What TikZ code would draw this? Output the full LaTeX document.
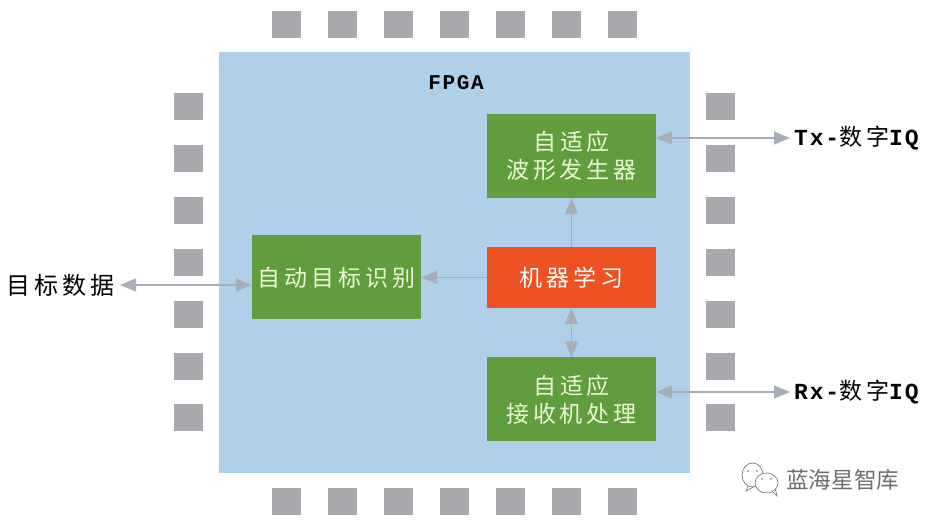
\documentclass[tikz,border=0pt]{standalone}
\usepackage{fontspec}
\usetikzlibrary{arrows.meta}
\newfontfamily\cjkb[LetterSpace=17]{Noto Sans CJK SC}
\newfontfamily\cjkw{Noto Sans CJK SC}
\newfontfamily\latn[LetterSpace=8]{Liberation Mono}
\definecolor{chipblue}{HTML}{B0CFE8}
\definecolor{boxgreen}{HTML}{609E3D}
\definecolor{boxred}{HTML}{EE5122}
\definecolor{padgray}{HTML}{A9A9AD}
\definecolor{arrowgray}{HTML}{A8AEB8}
\definecolor{lighttxt}{HTML}{EAF6D5}
\definecolor{marktxt}{HTML}{6E6E6E}
\tikzset{
  x=1pt,y=-1pt,
  chip/.style={fill=chipblue,draw=none,minimum width=471pt,minimum height=421pt,inner sep=0pt},
  funcbox/.style={fill=boxgreen,draw=none,minimum width=169pt,minimum height=84pt,inner sep=0pt,align=center,
    text=lighttxt,font=\cjkb\fontsize{23}{28}\selectfont},
  mlbox/.style={funcbox,fill=boxred,minimum height=61pt,text=white},
  pad/.style={fill=padgray,draw=none,minimum width=29pt,minimum height=27pt,inner sep=0pt},
  extlabel/.style={text=black,inner sep=0pt,font=\cjkb\fontsize{24}{26}\selectfont},
  link/.style={draw=arrowgray,line width=1.5pt},
  oneway/.style={link,-{Triangle[length=16pt,width=13pt]}},
  twoway/.style={link,{Triangle[length=16pt,width=13pt]}-{Triangle[length=16pt,width=13pt]}},
  bubble/.style={draw=marktxt,line width=.6pt,fill=white}
}
\begin{document}
\begin{tikzpicture}
\useasboundingbox (0,0) rectangle (930,521);
\fill[white] (0,0) rectangle (930,521);
\node[chip] (fpga) at (454.5,262.5) {};
\foreach \i/\px in {1/286.5,2/342.5,3/398.5,4/454.5,5/510.5,6/566.5,7/622.5}{
  \node[pad] (top\i) at (\px,24.5) {};
  \node[pad] (bot\i) at (\px,501.5) {};
}
\foreach \i/\py in {1/107,2/159,3/211,4/263,5/315,6/367,7/418}{
  \node[pad] (left\i) at (188.5,\py) {};
  \node[pad] (right\i) at (720,\py) {};
}
\node[font=\latn\bfseries\fontsize{21}{24}\selectfont,inner sep=0pt] (fpgalabel) at (456,83) {FPGA};
\node[funcbox] (wave) at (571.5,156) {自适应\\波形发生器};
\node[mlbox] (ml) at (571.5,277.5) {机器学习};
\node[funcbox] (rx) at (571.5,399.5) {自适应\\接收机处理};
\node[funcbox] (atr) at (336.5,277.5) {自动目标识别};
\node[extlabel,anchor=east] (target) at (115,285) {目标数据};
\node[inner sep=0pt,anchor=west,font=\fontsize{23}{26}\selectfont] (tx) at (794,138) {{\latn\bfseries Tx-}{\cjkb 数字}{\latn\bfseries IQ}};
\node[inner sep=0pt,anchor=west,font=\fontsize{23}{26}\selectfont] (rxout) at (794,392) {{\latn\bfseries Rx-}{\cjkb 数字}{\latn\bfseries IQ}};
\coordinate (txa) at (wave.east |- tx.west);
\coordinate (rxa) at (rx.east |- rxout.west);
\coordinate (atra) at (atr.west |- target.east);
\draw[twoway] (txa) -- ([xshift=-4pt]tx.west);
\draw[twoway] (rxa) -- ([xshift=-4pt]rxout.west);
\draw[twoway] ([xshift=5pt]target.east) -- (atra);
\draw[oneway] (ml.north) -- (wave.south);
\draw[oneway] (ml.west) -- (atr.east);
\draw[twoway] (ml.south) -- (rx.north);
\draw[bubble] (749,484) -- (746,491) -- (755,486);
\draw[bubble] (752.5,475) ellipse (10.5pt and 12pt);
\fill[marktxt] (748,471) circle (.9pt) (757,471) circle (.9pt);
\draw[bubble] (772,491) -- (777,496) -- (775,488);
\draw[bubble] (766.5,483) ellipse (11.5pt and 10pt);
\fill[marktxt] (762,479) circle (.9pt) (771,479) circle (.9pt);
\node[inner sep=0pt,anchor=west,text=marktxt,font=\cjkw\fontsize{22.6}{26}\selectfont] (mark) at (786,480) {蓝海星智库};
\end{tikzpicture}
\end{document}
